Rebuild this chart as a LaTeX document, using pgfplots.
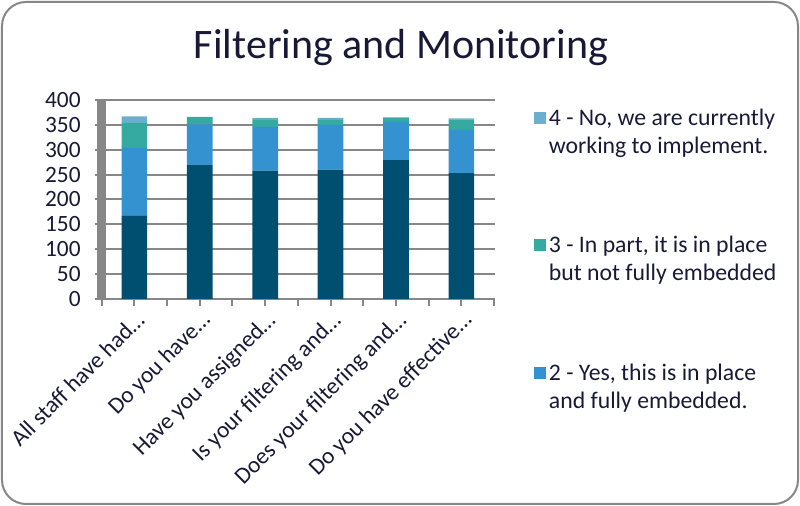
\documentclass[border=0pt]{standalone}
\usepackage{pgfplots}
\pgfplotsset{compat=1.18}
\usepackage{fontspec}
\setmainfont{Carlito}

\definecolor{txt}{RGB}{25,25,55}
\definecolor{c1}{RGB}{0,78,112}
\definecolor{c2}{RGB}{53,146,208}
\definecolor{c3}{RGB}{53,170,160}
\definecolor{c4}{RGB}{106,176,204}
\definecolor{gridc}{RGB}{135,135,135}

\begin{document}
\begin{tikzpicture}[x=0.75pt,y=0.75pt]
% pixel grid of the reference, origin at the axis' lower left corner
\path[use as bounding box] (-95,-207) rectangle (705,299);
\draw[gridc, line width=1.5pt, rounded corners=18pt] (-93,-205) rectangle (703,297);
\node[font=\fontsize{31.5}{36}\selectfont, text=txt, anchor=base] at (306,240) {Filtering and Monitoring};

\begin{axis}[
    scale only axis,
    width=300pt, height=149.25pt,
    ybar stacked,
    bar width=0.393,
    xmin=-0.602, xmax=5.514,
    ymin=0, ymax=400,
    ytick={0,50,...,400},
    xtick={0,...,5},
    xticklabels={All staff have had\dots, Do you have\dots, Have you assigned\dots,
                 Is your filtering and\dots, Does your filtering and\dots, Do you have effective\dots},
    extra x ticks={-0.5,0.5,1.5,2.5,3.5,4.5,5.5},
    extra x tick labels={},
    ymajorgrids,
    grid style={gridc, line width=1.5pt},
    axis x line*=bottom,
    axis y line*=left,
    y axis line style={draw=none},
    x axis line style={gridc, line width=1.5pt},
    tick align=outside,
    major tick length=5.25pt,
    xtick style={gridc, line width=1.5pt},
    ytick style={draw=none},
    /pgf/number format/assume math mode=true,
    ticklabel style={font=\fontsize{17.5}{20}\selectfont, text=txt},
    yticklabel style={xshift=-2pt},
    xticklabel style={rotate=45, anchor=north east, inner sep=2pt},
    legend style={at={(rel axis cs:1.0875,0.985)}, anchor=north west, draw=none, fill=none,
        font=\fontsize{17.8}{21}\selectfont, text=txt, row sep=56.75pt,
        cells={anchor=west, align=left}},
    legend image code/.code={
        \path[draw=none, fill=none] (0pt,-15pt) rectangle (9pt,15pt);
        \fill[#1] (0pt,6pt) rectangle (9pt,15pt);},
    reverse legend,
]
\addplot[fill=c1, draw=none, forget plot] coordinates {(0,167) (1,269) (2,258) (3,260) (4,279) (5,253)};
\addplot[fill=c2, draw=none] coordinates {(0,137) (1,82) (2,88) (3,90) (4,77) (5,87)};
\addlegendentry{2 - Yes, this is in place\\and fully embedded.}
\addplot[fill=c3, draw=none] coordinates {(0,50) (1,15) (2,14) (3,10) (4,8) (5,21)};
\addlegendentry{3 - In part, it is in place\\but not fully embedded}
\addplot[fill=c4, draw=none] coordinates {(0,13) (1,0) (2,4) (3,4) (4,1) (5,2)};
\addlegendentry{4 - No, we are currently\\working to implement.}
\fill[gridc] ([xshift=1.5pt]rel axis cs:0,0) rectangle ([xshift=8.25pt]rel axis cs:0,1);
\end{axis}
\end{tikzpicture}
\end{document}
